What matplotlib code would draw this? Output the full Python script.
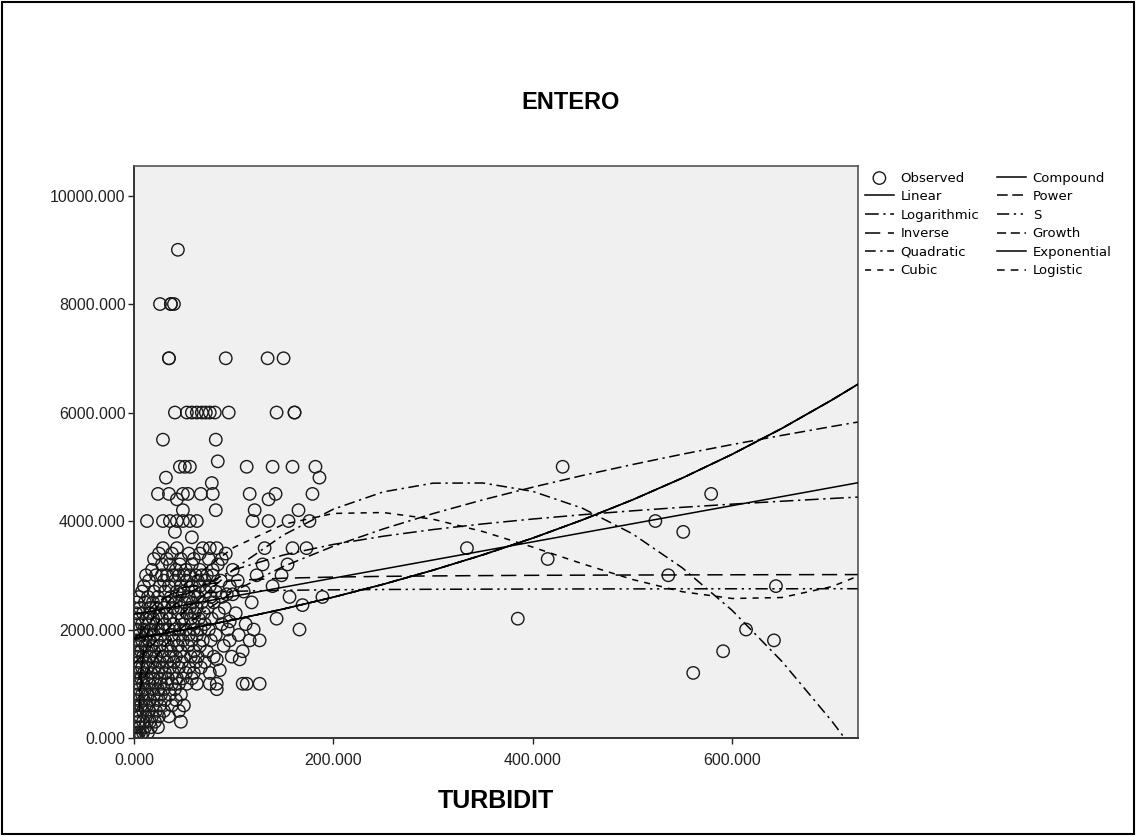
#%% Libraries
import matplotlib
matplotlib.use('Agg')
import matplotlib.pyplot as plt
from matplotlib.patches import Rectangle

#%% Observed points (ENTERO level -> TURBIDIT values at that level)
entero_levels = [9000, 8000, 7000, 6000, 5500, 5100, 5000, 4800, 4700, 4500, 4400, 4200,
                 4000, 3800, 3700, 3500, 3400, 3300, 3200, 3100, 3000, 2900, 2800, 2700,
                 2650, 2600, 2500, 2450, 2400, 2300, 2200, 2150, 2100, 2000, 1900, 1800,
                 1700, 1600, 1500, 1450, 1400, 1300, 1250, 1200, 1100, 1000, 900, 800,
                 700, 600, 500, 400, 300, 200, 100, 50, 0]
turbid_rows = [
    [44],
    [26, 37, 37, 40],
    [35, 35, 92, 134, 150],
    [41, 53, 58, 63, 68, 72, 76, 81, 95, 143, 161, 161],
    [29, 82],
    [84],
    [46, 51, 56, 113, 139, 159, 182, 430],
    [32, 186],
    [78],
    [24, 35, 49, 54, 67, 79, 116, 142, 179, 579],
    [43, 135],
    [49, 82, 121, 165],
    [13, 29, 36, 43, 49, 56, 63, 119, 135, 155, 176, 523],
    [41, 551],
    [58],
    [29, 43, 69, 76, 83, 131, 159, 173, 334],
    [25, 38, 55, 66, 92],
    [20, 33, 47, 60, 75, 88, 415],
    [28, 36, 46, 58, 84, 129, 154],
    [18, 42, 52, 66, 79, 99],
    [12, 22, 28, 33, 39, 45, 50, 56, 62, 68, 73, 79, 123, 148, 536],
    [15, 30, 41, 53, 64, 71, 87, 104],
    [10, 26, 35, 47, 58, 66, 76, 96, 139, 644],
    [8, 20, 31, 43, 50, 61, 72, 82, 110],
    [46, 93, 99],
    [5, 14, 24, 37, 55, 64, 77, 88, 156, 189],
    [3, 11, 19, 27, 34, 42, 51, 59, 68, 80, 118],
    [169],
    [6, 16, 22, 30, 39, 47, 56, 63, 74, 91],
    [2, 9, 16, 25, 33, 44, 53, 61, 70, 85, 102],
    [4, 12, 19, 28, 36, 48, 57, 65, 78, 143, 385],
    [96],
    [1, 8, 15, 22, 31, 40, 50, 59, 71, 88, 112],
    [3, 10, 17, 24, 29, 35, 41, 46, 52, 60, 67, 75, 94, 120, 166, 614],
    [5, 13, 20, 27, 38, 45, 55, 63, 82, 105],
    [2, 8, 15, 23, 31, 40, 49, 58, 69, 77, 96, 116, 126, 642],
    [4, 11, 18, 26, 34, 44, 54, 66, 90],
    [1, 7, 13, 20, 28, 37, 47, 60, 73, 109, 591],
    [3, 9, 16, 22, 29, 35, 42, 50, 57, 64, 80, 98],
    [83, 106],
    [5, 12, 19, 26, 33, 40, 48, 62, 71],
    [2, 8, 14, 21, 28, 36, 45, 55, 67],
    [86],
    [4, 10, 17, 24, 31, 39, 52, 60, 76, 561],
    [1, 7, 13, 19, 26, 34, 43, 49, 58],
    [3, 9, 15, 21, 27, 33, 38, 45, 53, 63, 76, 83, 109, 113, 126],
    [5, 11, 18, 24, 30, 41, 83],
    [2, 8, 14, 20, 27, 36, 47],
    [4, 10, 16, 23, 31, 42],
    [1, 7, 13, 19, 26, 38, 50],
    [3, 9, 15, 22, 30, 45],
    [2, 6, 12, 18, 25, 35],
    [4, 9, 16, 21, 47],
    [1, 6, 11, 17, 24],
    [2, 5, 9, 14],
    [1, 3, 7],
    [0.5, 2],
]

#%% Fitted curves
curve_x = [0, 50, 100, 150, 200, 250, 300, 350, 400, 450, 500, 550, 600, 650, 700, 726]
linear_y = [2280, 2447, 2614, 2781, 2948, 3115, 3282, 3449, 3616, 3783, 3950, 4117, 4284, 4451, 4618, 4705]
quadratic_y = [1371, 2319, 3110, 3743, 4219, 4537, 4698, 4701, 4547, 4235, 3765, 3138, 2354, 1412, 313, -321]
cubic_y = [1830, 2825, 3514, 3939, 4140, 4157, 4033, 3806, 3519, 3211, 2923, 2697, 2572, 2590, 2791, 2982]
expo_y = [1830, 1997, 2180, 2379, 2597, 2834, 3094, 3377, 3685, 4022, 4390, 4792, 5230, 5708, 6230, 6519]

pos_x = [5, 10, 25, 50, 100, 150, 200, 250, 300, 350, 400, 450, 500, 550, 600, 650, 700, 726]
log_y = [1075, 1544, 2163, 2632, 3100, 3374, 3569, 3720, 3843, 3947, 4037, 4117, 4188, 4253, 4311, 4365, 4416, 4441]
power_y = [848, 1109, 1581, 2068, 2704, 3164, 3536, 3854, 4137, 4391, 4624, 4840, 5041, 5232, 5410, 5579, 5742, 5824]
inverse_y = [510, 1770, 2526, 2778, 2904, 2946, 2967, 2980, 2988, 2994, 2999, 3002, 3005, 3007, 3009, 3011, 3012, 3013]
s_y = [1850, 2260, 2548, 2652, 2705, 2723, 2732, 2738, 2742, 2744, 2746, 2748, 2749, 2750, 2751, 2751, 2752, 2752]

#%% Plot
fig = plt.figure(figsize=(11.36, 8.36), dpi=100, facecolor='white')
ax = fig.add_axes([0.118, 0.1172, 0.637, 0.6842])
ax.set_facecolor('#f0f0f0')

ox, oy = [], []
for lev, row in zip(entero_levels, turbid_rows):
    ox += row
    oy += [lev] * len(row)
obs = ax.scatter(ox, oy, s=80, facecolors='none', edgecolors='#1a1a1a', linewidths=1.0,
                 zorder=2, label='Observed')

lk = dict(color='black', lw=1.1, zorder=3)
l_lin, = ax.plot(curve_x, linear_y, ls='-', label='Linear', **lk)
l_log, = ax.plot(pos_x, log_y, dashes=(9, 3, 1.5, 3), label='Logarithmic', **lk)
l_inv, = ax.plot(pos_x, inverse_y, dashes=(10, 5), label='Inverse', **lk)
l_quad, = ax.plot(curve_x, quadratic_y, dashes=(7, 3, 1.5, 3), label='Quadratic', **lk)
l_cub, = ax.plot(curve_x, cubic_y, dashes=(4, 4), label='Cubic', **lk)
l_comp, = ax.plot(curve_x, expo_y, ls='-', label='Compound', **lk)
l_pow, = ax.plot(pos_x, power_y, dashes=(7, 3, 7, 3, 1.5, 3), label='Power', **lk)
l_s, = ax.plot(pos_x, s_y, dashes=(8, 3, 1.5, 3, 1.5, 3), label='S', **lk)
l_gro, = ax.plot(curve_x, expo_y, dashes=(6, 3), label='Growth', **lk)
l_exp, = ax.plot(curve_x, expo_y, ls='-', label='Exponential', **lk)
l_logi, = ax.plot(curve_x, expo_y, dashes=(5, 4), label='Logistic', **lk)

ax.set_xlim(0, 726)
ax.set_ylim(0, 10544)
ax.set_xticks([0, 200, 400, 600])
ax.set_yticks([0, 2000, 4000, 6000, 8000, 10000])
ax.set_xticklabels(['%.3f' % v for v in [0, 200, 400, 600]])
ax.set_yticklabels(['%.3f' % v for v in [0, 2000, 4000, 6000, 8000, 10000]])
ax.tick_params(axis='both', direction='out', length=4, width=1, labelsize=11.5,
               colors='#222222')
ax.tick_params(axis='x', pad=7)
ax.tick_params(axis='y', pad=2)
for side in ['left', 'bottom']:
    ax.spines[side].set_linewidth(1.4)
    ax.spines[side].set_color('#333333')
for side in ['top', 'right']:
    ax.spines[side].set_linewidth(1.2)
    ax.spines[side].set_color('#555555')
for lab in ax.get_xticklabels() + ax.get_yticklabels():
    lab.set_fontfamily('Liberation Sans')

ax.set_xlabel('TURBIDIT', fontsize=18, fontweight='bold', family='Liberation Sans',
              labelpad=15)
fig.text(0.502, 0.877, 'ENTERO', ha='center', va='center', fontsize=17,
         fontweight='bold', family='Liberation Sans')

handles = [obs, l_lin, l_log, l_inv, l_quad, l_cub,
           l_comp, l_pow, l_s, l_gro, l_exp, l_logi]
fig.legend(handles=handles, labels=[h.get_label() for h in handles], ncol=2,
           loc='upper left', bbox_to_anchor=(0.759, 0.798), frameon=False,
           prop={'family': 'DejaVu Sans', 'size': 9.5}, handlelength=2.2,
           handletextpad=0.5, columnspacing=1.35, labelspacing=0.42,
           borderaxespad=0, borderpad=0.2)

# outer frame around the whole picture
fig.patches.append(Rectangle((0.0015, 0.002), 0.997, 0.996, transform=fig.transFigure,
                             fill=False, edgecolor='black', lw=1.5))

fig.savefig('out.png', dpi=100, facecolor='white')
